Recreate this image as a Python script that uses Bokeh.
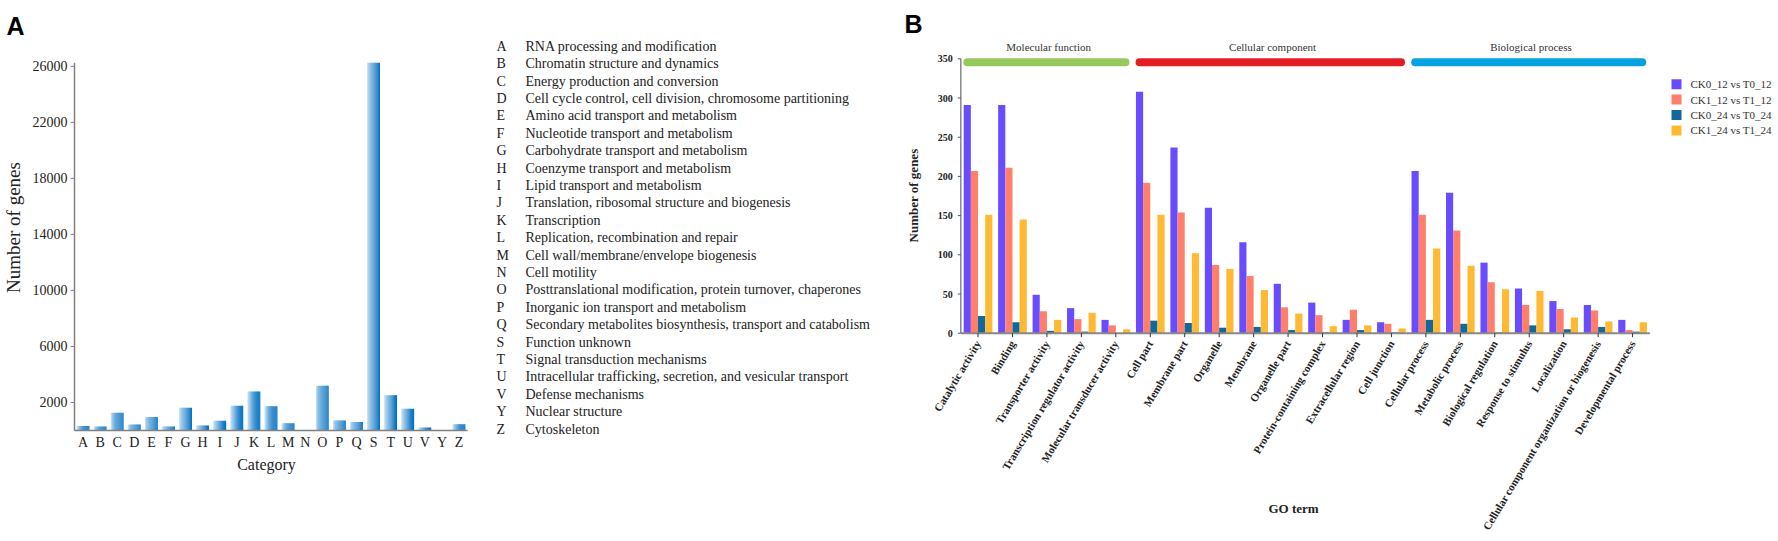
import math
from bokeh.plotting import figure
from bokeh.models import ColumnDataSource, Range1d
from bokeh.transform import dodge
from bokeh.layouts import row
from bokeh.embed import file_html
from bokeh.resources import INLINE
from bokeh.core.properties import value

# ---------------- Panel A data (COG categories) ----------------
cog_codes = ["A", "B", "C", "D", "E", "F", "G", "H", "I", "J", "K", "L", "M",
             "N", "O", "P", "Q", "S", "T", "U", "V", "Y", "Z"]
cog_counts = [330, 290, 1260, 430, 955, 285, 1620, 360, 690, 1760, 2790, 1740, 525,
              0, 3190, 715, 600, 26250, 2525, 1550, 215, 0, 455]
cog_names = [
    "RNA processing and modification",
    "Chromatin structure and dynamics",
    "Energy production and conversion",
    "Cell cycle control, cell division, chromosome partitioning",
    "Amino acid transport and metabolism",
    "Nucleotide transport and metabolism",
    "Carbohydrate transport and metabolism",
    "Coenzyme transport and metabolism",
    "Lipid transport and metabolism",
    "Translation, ribosomal structure and biogenesis",
    "Transcription",
    "Replication, recombination and repair",
    "Cell wall/membrane/envelope biogenesis",
    "Cell motility",
    "Posttranslational modification, protein turnover, chaperones",
    "Inorganic ion transport and metabolism",
    "Secondary metabolites biosynthesis, transport and catabolism",
    "Function unknown",
    "Signal transduction mechanisms",
    "Intracellular trafficking, secretion, and vesicular transport",
    "Defense mechanisms",
    "Nuclear structure",
    "Cytoskeleton",
]
cog_yticks = [2000, 6000, 10000, 14000, 18000, 22000, 26000]

# ---------------- Panel B data (GO terms) ----------------
go_terms = ["Catalytic activity", "Binding", "Transporter activity",
            "Transcription regulator activity", "Molecular transducer activity",
            "Cell part", "Membrane part", "Organelle", "Membrane", "Organelle part",
            "Protein-containing complex", "Extracellular region", "Cell junction",
            "Cellular process", "Metabolic process", "Biological regulation",
            "Response to stimulus", "Localization",
            "Cellular component organization or biogenesis", "Developmental process"]
go_groups = ["Molecular function", "Cellular component", "Biological process"]
go_group_sizes = [5, 8, 7]
go_group_colors = ["#95c95c", "#e31d24", "#05a1e0"]

series_names = ["CK0_12 vs T0_12", "CK1_12 vs T1_12", "CK0_24 vs T0_24", "CK1_24 vs T1_24"]
series_colors = ["#6a4cff", "#ff7f6b", "#11699b", "#ffb932"]
ck0_12 = [291, 291, 49, 32, 17, 308, 237, 160, 116, 63, 39, 17, 14, 207, 179, 90, 57, 41, 36, 17]
ck1_12 = [207, 211, 28, 18, 10, 192, 154, 87, 73, 33, 23, 30, 12, 151, 131, 65, 36, 31, 29, 4]
ck0_24 = [22, 14, 3, 2, 0, 16, 13, 7, 8, 4, 1, 4, 1, 17, 12, 1, 10, 5, 8, 2]
ck1_24 = [151, 145, 17, 26, 5, 151, 102, 82, 55, 25, 9, 10, 6, 108, 86, 56, 54, 20, 15, 14]
go_yticks = [0, 50, 100, 150, 200, 250, 300, 350]

SERIF = "Liberation Serif"
SANS = "Liberation Sans"
TXT = "#222222"

# ---- layout geometry (page pixels; each frame fills its whole canvas) ----
H = 540
A_FIG_LEFT, A_WIDTH = 0, 880
B_FIG_LEFT, B_WIDTH = 880, 896

# Panel A mapping: category i centred at i, axis at 74 px, 17.09 px per category;
# value 0 -> 430 px, 26250 -> 62.3 px
A_LEFT_PX, A_PX_PER = 74.0, 17.09
A_ZERO_PX, A_TOP_PX, A_TOP_VAL = 430.0, 62.3, 26250.0
kA = A_TOP_VAL / (A_ZERO_PX - A_TOP_PX)
def xa(px):
    return -0.5 + (px - A_LEFT_PX) / A_PX_PER
def ya(px):
    return (A_ZERO_PX - px) * kA

# Panel B mapping: category i centred at i, axis at 960.3 px, 34.45 px per category;
# value 0 -> 332.7 px, 350 -> 58.3 px
B_LEFT_PX, B_PX_PER = 960.3, 34.45
B_ZERO_PX, B_TOP_PX, B_TOP_VAL = 332.7, 58.3, 350.0
kB = B_TOP_VAL / (B_ZERO_PX - B_TOP_PX)
def xb(px):
    return -0.5 + (px - B_LEFT_PX) / B_PX_PER
def yb(px):
    return (B_ZERO_PX - px) * kB

def bare_figure(xr, yr, width):
    p = figure(x_range=xr, y_range=yr, width=width, height=H, output_backend="svg",
               toolbar_location=None, x_axis_location=None, y_axis_location=None,
               min_border_left=0, min_border_right=0, min_border_top=0, min_border_bottom=0)
    p.xgrid.visible = False
    p.ygrid.visible = False
    p.outline_line_color = None
    return p

# ================= Panel A =================
pA = bare_figure(Range1d(xa(A_FIG_LEFT), xa(A_FIG_LEFT + A_WIDTH)),
                 Range1d(ya(H), ya(0)), A_WIDTH)

n_cog = len(cog_codes)
srcA = ColumnDataSource(dict(code=cog_codes, pos=list(range(n_cog)), count=cog_counts))
n_strips = 12
bar_w = 0.74
c0 = (222, 239, 251)
c1 = (0, 110, 192)
for k in range(n_strips):
    t = ((k + 0.5) / n_strips) ** 0.6
    col = "#%02x%02x%02x" % tuple(int(round(a + (b - a) * t)) for a, b in zip(c0, c1))
    off = -bar_w / 2 + (k + 0.5) * bar_w / n_strips
    pA.vbar(x=dodge("pos", off), top="count", bottom=0,
            width=bar_w / n_strips * 1.15, source=srcA, fill_color=col, line_color=None)

# x axis: baseline, letters, title
pA.segment(x0=[-0.5], x1=[n_cog - 0.5], y0=[0], y1=[0], line_color="#808080", line_width=1.5)
pA.text(x="pos", y=ya(441.5), text="code", source=srcA, text_font=value(SERIF),
        text_font_size="14px", text_color=TXT, text_align="center", text_baseline="middle")
pA.text(x=[xa(266)], y=[ya(464)], text=["Category"], text_font=value(SERIF),
        text_font_size="16px", text_color=TXT, text_align="center", text_baseline="middle")

# y axis: line, ticks, labels, title
srcAT = ColumnDataSource(dict(t=cog_yticks, lbl=[str(v) for v in cog_yticks]))
pA.segment(x0=[-0.5], x1=[-0.5], y0=[0], y1=[A_TOP_VAL], line_color="#808080", line_width=1.5)
pA.segment(x0=xa(A_LEFT_PX - 4), x1=-0.5, y0="t", y1="t", source=srcAT,
           line_color="#808080", line_width=1)
pA.text(x=xa(A_LEFT_PX - 7), y="t", text="lbl", source=srcAT, text_font=value(SERIF),
        text_font_size="14px", text_color=TXT, text_align="right", text_baseline="middle")
pA.text(x=[xa(13)], y=[ya(227)], text=["Number of genes"], angle=math.pi / 2,
        text_font=value(SERIF), text_font_size="19px", text_color=TXT,
        text_align="center", text_baseline="middle")

# panel letter
pA.text(x=[xa(6)], y=[ya(25)], text=["A"], text_font=value(SANS), text_font_style="bold",
        text_font_size="25px", text_color="#000000", text_align="left",
        text_baseline="alphabetic")

# category legend
ROW0_PX, ROW_STEP = 45.7, 17.4
srcL = ColumnDataSource(dict(code=cog_codes, name=cog_names,
                             y=[ya(ROW0_PX + ROW_STEP * i) for i in range(n_cog)]))
pA.text(x=xa(496), y="y", text="code", source=srcL, text_font=value(SERIF),
        text_font_size="14px", text_color=TXT, text_baseline="middle", text_align="left")
pA.text(x=xa(525), y="y", text="name", source=srcL, text_font=value(SERIF),
        text_font_size="14px", text_color=TXT, text_baseline="middle", text_align="left")

# ================= Panel B =================
pB = bare_figure(Range1d(xb(B_FIG_LEFT), xb(B_FIG_LEFT + B_WIDTH)),
                 Range1d(yb(H), yb(0)), B_WIDTH)

n_terms = len(go_terms)
srcB = ColumnDataSource(dict(term=go_terms, pos=list(range(n_terms)),
                             s0=ck0_12, s1=ck1_12, s2=ck0_24, s3=ck1_24))
offsets = [-0.312, -0.104, 0.104, 0.312]
for i, key in enumerate(["s0", "s1", "s2", "s3"]):
    pB.vbar(x=dodge("pos", offsets[i]), top=key, bottom=0,
            width=0.208, source=srcB, fill_color=series_colors[i], line_color=None)

# x axis: baseline, ticks, rotated labels, title
pB.segment(x0=[-0.5], x1=[n_terms - 0.5], y0=[0], y1=[0], line_color="#888888", line_width=2)
pB.segment(x0="pos", x1="pos", y0=0, y1=yb(B_ZERO_PX + 4), source=srcB,
           line_color="#333333", line_width=1)
pB.text(x="pos", y=yb(341), text="term", source=srcB, angle=1.03,
        text_font=value(SERIF), text_font_style="bold", text_font_size="11px",
        text_color=TXT, text_align="right", text_baseline="middle")
pB.text(x=[xb(1293)], y=[yb(508)], text=["GO term"],
        text_font=value(SERIF), text_font_style="bold", text_font_size="13px",
        text_color=TXT, text_align="center", text_baseline="middle")

# y axis: line, ticks, labels, title
srcT = ColumnDataSource(dict(t=go_yticks, lbl=[str(v) for v in go_yticks]))
pB.segment(x0=[-0.5], x1=[-0.5], y0=[0], y1=[B_TOP_VAL], line_color="#888888", line_width=1.5)
pB.segment(x0=xb(B_LEFT_PX - 3), x1=-0.5, y0="t", y1="t", source=srcT,
           line_color="#555555", line_width=1)
pB.text(x=xb(B_LEFT_PX - 8), y="t", text="lbl", source=srcT, text_font=value(SERIF),
        text_font_style="bold", text_font_size="10px", text_color=TXT,
        text_align="right", text_baseline="middle")
pB.text(x=[xb(913)], y=[yb(195)], text=["Number of genes"], angle=math.pi / 2,
        text_font=value(SERIF), text_font_style="bold", text_font_size="13px",
        text_color=TXT, text_align="center", text_baseline="middle")

# panel letter
pB.text(x=[xb(904)], y=[yb(23.5)], text=["B"], text_font=value(SANS), text_font_style="bold",
        text_font_size="25px", text_color="#000000", text_align="left",
        text_baseline="alphabetic")

# group bands
g_start, g_end, g_mid = [], [], []
idx = 0
for n in go_group_sizes:
    g_start.append(idx)
    g_end.append(idx + n - 1)
    g_mid.append(idx + (n - 1) / 2)
    idx += n
srcG = ColumnDataSource(dict(s=g_start, e=g_end, m=g_mid, name=go_groups, color=go_group_colors))
pB.segment(x0=dodge("s", -0.31), x1=dodge("e", 0.28),
           y0=yb(61.7), y1=yb(61.7), line_width=8, line_cap="round", line_color="color",
           source=srcG)
pB.text(x=dodge("m", 0.05), y=yb(46), text="name", source=srcG, text_font=value(SERIF),
        text_font_size="11px", text_color="#333333", text_align="center",
        text_baseline="middle")

# series legend
LEG0_PX, LEG_STEP = 83.7, 15.4
srcS = ColumnDataSource(dict(name=series_names, color=series_colors,
                             y=[yb(LEG0_PX + LEG_STEP * i) for i in range(len(series_names))]))
pB.rect(x=xb(1676), y="y", width=10, height=10, width_units="screen", height_units="screen",
        fill_color="color", line_color=None, source=srcS)
pB.text(x=xb(1690), y="y", text="name", source=srcS, text_font=value(SERIF),
        text_font_size="11px", text_color="#333333", text_align="left", text_baseline="middle")

layout = row(pA, pB)
open("out.html", "w").write(file_html(layout, INLINE))
